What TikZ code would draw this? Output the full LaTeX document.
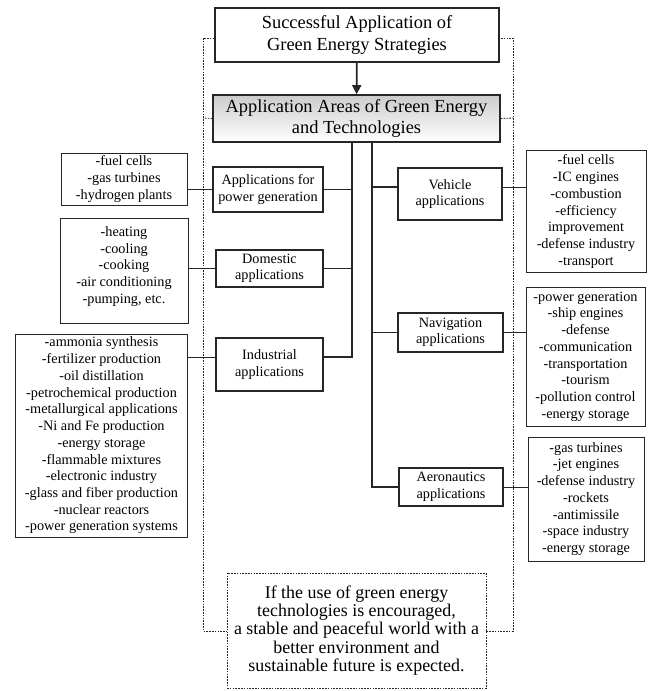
\documentclass[tikz,border=0pt]{standalone}
\usepackage{fontspec}
\setmainfont{Liberation Serif}
\usetikzlibrary{arrows.meta}
\begin{document}
\begin{tikzpicture}[x=1bp,y=-1bp,
  thickbox/.style={draw=black!85, line width=1.6bp, fill=white, inner sep=0pt, align=center},
  listbox/.style={draw=black!85, line width=1bp, fill=white, inner sep=0pt, align=center, font=\fontsize{14.3}{16.8}\selectfont},
  midbox/.style={thickbox, font=\fontsize{14.3}{16.6}\selectfont},
  trunk/.style={draw=black!85, line width=1.8bp},
  thinline/.style={draw=black!85, line width=0.9bp},
  frame/.style={draw=black!85, line width=0.8bp, dash pattern=on 1.6bp off 1.2bp}]
\useasboundingbox (0,0) rectangle (653,691);
% dashed frame
\draw[frame] (203,38) rectangle (513,631);
% top boxes
\node[thickbox, minimum width=284bp, minimum height=54bp, font=\fontsize{18.5}{23}\selectfont] (top) at (357,35) {Successful Application of\\Green Energy Strategies};
\node[thickbox, top color=gray!40, bottom color=white, minimum width=287bp, minimum height=47bp, font=\fontsize{18.5}{22}\selectfont] (head) at (356.5,118.5) {Application Areas of Green Energy\\and Technologies};
\coordinate (fl) at (203,118);
\coordinate (fr) at (513,118);
\draw[frame] (head.west) -- (fl);
\draw[frame] (head.east) -- (fr);
\draw[trunk, -{Triangle[length=9bp,width=9bp]}] (top) -- (head);
% middle boxes
\node[midbox, minimum width=110bp, minimum height=45bp] (pg) at (268,189.5) {Applications for\\power generation};
\node[midbox, minimum width=107bp, minimum height=37bp] (dom) at (269.5,268.5) {Domestic\\applications};
\node[midbox, minimum width=107bp, minimum height=53bp] (ind) at (269.5,364.5) {Industrial\\applications};
\node[midbox, minimum width=104bp, minimum height=52bp] (veh) at (450,194) {Vehicle\\applications};
\node[midbox, minimum width=105bp, minimum height=39bp] (nav) at (450.5,332.5) {Navigation\\applications};
\node[midbox, minimum width=104bp, minimum height=38bp] (aero) at (451,487) {Aeronautics\\applications};
% lists
\node[listbox, minimum width=126bp, minimum height=52bp] (l1) at (124,179) {-fuel cells\\-gas turbines\\-hydrogen plants};
\node[listbox, minimum width=128bp, minimum height=105bp] (l2) at (124,270.5) {-heating\\-cooling\\-cooking\\-air conditioning\\-pumping, etc.\\[-5.5pt]\mbox{}};
\node[listbox, minimum width=171bp, minimum height=203bp] (l3) at (101.5,435.5) {-ammonia synthesis\\-fertilizer production\\-oil distillation\\-petrochemical production\\-metallurgical applications\\-Ni and Fe production\\-energy storage\\-flammable mixtures\\-electronic industry\\-glass and fiber production\\-nuclear reactors\\-power generation systems};
\node[listbox, minimum width=120bp, minimum height=121bp] (r1) at (586,211.5) {-fuel cells\\-IC engines\\-combustion\\-efficiency\\improvement\\-defense industry\\-transport};
\node[listbox, minimum width=119bp, minimum height=139bp] (r2) at (585.5,356.5) {-power generation\\-ship engines\\-defense\\-communication\\-transportation\\-tourism\\-pollution control\\-energy storage};
\node[listbox, minimum width=116bp, minimum height=124bp] (r3) at (586,499) {-gas turbines\\-jet engines\\-defense industry\\-rockets\\-antimissile\\-space industry\\-energy storage};
% bottom box
\node[frame, fill=white, inner sep=0pt, align=center, minimum width=259bp, minimum height=115bp, font=\fontsize{18}{18.3}\selectfont] (concl) at (356.5,630.5) {If the use of green energy\\technologies is encouraged,\\a stable and peaceful world with a\\better environment and\\sustainable future is expected.};
% trunks
\coordinate (lt) at (352,142);
\coordinate (rt) at (372,142);
\draw[trunk] (lt) |- ([yshift=7.5bp]ind.east);
\draw[trunk] (pg.east) -- (pg.east -| lt);
\draw[trunk] (dom.east) -- (dom.east -| lt);
\draw[trunk] (rt) |- (aero.west);
\draw[trunk] ([yshift=7bp]veh.west) -- ([yshift=7bp]veh.west -| rt);
\draw[trunk] (nav.west) -- (nav.west -| rt);
% list connectors
\draw[thinline] (pg.west) -- (pg.west -| l1.east);
\draw[thinline] (dom.west) -- (dom.west -| l2.east);
\draw[thinline] ([yshift=7.5bp]ind.west) -- ([yshift=7.5bp]ind.west -| l3.east);
\draw[thinline] ([yshift=7bp]veh.east) -- ([yshift=7bp]veh.east -| r1.west);
\draw[thinline] (nav.east) -- (nav.east -| r2.west);
\draw[thinline] (aero.east) -- (aero.east -| r3.west);
\end{tikzpicture}
\end{document}
